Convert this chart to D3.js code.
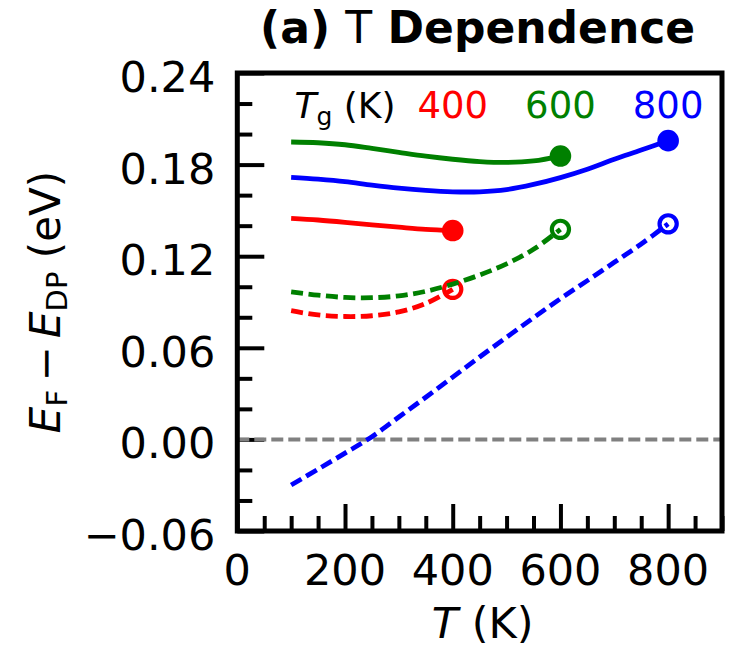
<!DOCTYPE html>
<html>
<head>
<meta charset="utf-8">
<script src="https://cdn.jsdelivr.net/npm/d3@7"></script>
<style>
  body { margin: 0; background: #fff; }
  text { font-family: "DejaVu Sans", sans-serif; }
</style>
</head>
<body>
<div id="plot_area"></div>
<script>
// temperatures sampled along each curve (K)
var temps400 = [100, 150, 200, 250, 300, 350, 400]
var temps600 = [100, 150, 200, 250, 300, 350, 400, 450, 500, 550, 600]
var temps800 = [100, 150, 200, 250, 300, 350, 400, 450, 500, 550, 600, 650, 700, 750, 800]

// solid curves (filled end dot)
var solid400 = [0.1448, 0.1437, 0.1422, 0.1405, 0.1390, 0.1376, 0.1368]
var solid600 = [0.1948, 0.1943, 0.1930, 0.1906, 0.1880, 0.1855, 0.1835, 0.1820, 0.1814, 0.1824, 0.1856]
var solid800 = [0.1717, 0.1705, 0.1689, 0.1666, 0.1646, 0.1631, 0.1622, 0.1622, 0.1636, 0.1670, 0.1715, 0.1770, 0.1835, 0.1895, 0.1957]

// dashed curves (open end circle)
var dash400 = [0.0843, 0.0815, 0.0805, 0.0810, 0.0835, 0.0890, 0.0983]
var dash600 = [0.0967, 0.0945, 0.0930, 0.0928, 0.0940, 0.0970, 0.1017, 0.1077, 0.1150, 0.1245, 0.1376]
var dash800 = [-0.0299, -0.0195, -0.0090, 0.0018, 0.0147, 0.0276, 0.0408, 0.0540, 0.0669, 0.0797, 0.0922, 0.1040, 0.1160, 0.1280, 0.1412]

var growthTemps = [400, 600, 800]
var seriesColors = ["#ff0000", "#008000", "#0000ff"]

var xTicks = [0, 200, 400, 600, 800]
var yTicks = [-0.06, 0.00, 0.06, 0.12, 0.18, 0.24]

var W = 733, H = 649
var mLeft = 237.3, mRight = 722, mTop = 73, mBottom = 531

var svg = d3.select('#plot_area').append("svg")
  .attr("width", W).attr("height", H)

var x = d3.scaleLinear().domain([0, 900]).range([mLeft, mRight])
var y = d3.scaleLinear().domain([-0.06, 0.24]).range([mBottom, mTop])

// minor ticks
var xMinor = d3.range(0, 901, 50).filter(function(d) { return d % 200 != 0 })
var yMinor = d3.range(-6, 25, 2).map(function(d) { return d / 100 })
  .filter(function(d) { return Math.round(d * 100) % 6 != 0 })

var axisG = svg.append("g")

// bottom axis: ticks point inward
axisG.append("g")
  .attr("transform", "translate(0," + mBottom + ")")
  .call(d3.axisBottom(x).tickValues(xTicks).tickSizeInner(-27).tickSizeOuter(0).tickPadding(0).tickFormat(""))
  .call(function(g) { g.select(".domain").remove() })
axisG.append("g")
  .attr("transform", "translate(0," + mBottom + ")")
  .call(d3.axisBottom(x).tickValues(xMinor).tickSizeInner(-15).tickSizeOuter(0).tickFormat(""))
  .call(function(g) { g.select(".domain").remove() })

axisG.append("g")
  .attr("transform", "translate(" + mLeft + ",0)")
  .call(d3.axisLeft(y).tickValues(yTicks).tickSizeInner(-27).tickSizeOuter(0).tickFormat(""))
  .call(function(g) { g.select(".domain").remove() })
axisG.append("g")
  .attr("transform", "translate(" + mLeft + ",0)")
  .call(d3.axisLeft(y).tickValues(yMinor).tickSizeInner(-15).tickSizeOuter(0).tickFormat(""))
  .call(function(g) { g.select(".domain").remove() })

axisG.selectAll(".tick line").attr("stroke", "#000").attr("stroke-width", 4)

// tick labels
svg.append("g").selectAll("text")
  .data(xTicks).enter().append("text")
  .attr("x", function(d) { return x(d) })
  .attr("y", 585)
  .attr("text-anchor", "middle")
  .style("font-size", "43px")
  .text(function(d) { return d })

svg.append("g").selectAll("text")
  .data(yTicks).enter().append("text")
  .attr("x", mLeft - 22)
  .attr("y", function(d) { return y(d) + 19 })
  .attr("text-anchor", "end")
  .style("font-size", "43px")
  .text(function(d) { return (d < 0 ? "\u2212" : "") + Math.abs(d).toFixed(2) })

// zero line
svg.append("line")
  .attr("x1", mLeft).attr("x2", mRight)
  .attr("y1", y(0)).attr("y2", y(0))
  .attr("stroke", "#808080").attr("stroke-width", 4)
  .attr("stroke-dasharray", "12,5")

var line = d3.line()
  .x(function(d) { return x(d[0]) })
  .y(function(d) { return y(d[1]) })
  .curve(d3.curveCatmullRom)

var solids = [solid400, solid600, solid800]
var dashes = [dash400, dash600, dash800]
var tempsList = [temps400, temps600, temps800]

var plot = svg.append("g")

tempsList.forEach(function(ts, i) {
  var s = ts.map(function(t, j) { return [t, solids[i][j]] })
  var d = ts.map(function(t, j) { return [t, dashes[i][j]] })

  plot.append("path").datum(s)
    .attr("d", line).attr("fill", "none")
    .attr("stroke", seriesColors[i]).attr("stroke-width", 4.8)

  plot.append("path").datum(d)
    .attr("d", line).attr("fill", "none")
    .attr("stroke", seriesColors[i]).attr("stroke-width", 4.8)
    .attr("stroke-dasharray", "12,5.5")

  var last = s[s.length - 1]
  plot.append("circle")
    .attr("cx", x(last[0])).attr("cy", y(last[1])).attr("r", 10.8)
    .attr("fill", seriesColors[i])

  var lastD = d[d.length - 1]
  plot.append("circle")
    .attr("cx", x(lastD[0])).attr("cy", y(lastD[1])).attr("r", 8.6)
    .attr("fill", "none")
    .attr("stroke", seriesColors[i]).attr("stroke-width", 4.2)
})

// legend text
var tg = svg.append("text")
  .attr("x", x(200)).attr("y", 118)
  .attr("text-anchor", "middle")
  .style("font-size", "36px")
tg.append("tspan").style("font-style", "italic").text("T")
tg.append("tspan").attr("dy", 7).style("font-size", "25px").text("g")
tg.append("tspan").attr("dy", -7).text(" (K)")

svg.append("g").selectAll("text")
  .data(growthTemps).enter().append("text")
  .attr("x", function(d) { return x(d) })
  .attr("y", 118)
  .attr("text-anchor", "middle")
  .style("font-size", "37px")
  .attr("fill", function(d, i) { return seriesColors[i] })
  .text(function(d) { return d })

// frame
svg.append("rect")
  .attr("x", mLeft).attr("y", mTop)
  .attr("width", mRight - mLeft).attr("height", mBottom - mTop)
  .attr("fill", "none").attr("stroke", "#000").attr("stroke-width", 5)

// title
var title = svg.append("text")
  .attr("x", (mLeft + mRight) / 2 - 2).attr("y", 43)
  .attr("text-anchor", "middle")
  .style("font-size", "44px").style("font-weight", "bold")
title.append("tspan").text("(a) ")
title.append("tspan").style("font-weight", "normal").text("T")
title.append("tspan").text(" Dependence")

// x label
var xl = svg.append("text")
  .attr("x", (mLeft + mRight) / 2 + 3).attr("y", 638)
  .attr("text-anchor", "middle")
  .style("font-size", "43px")
xl.append("tspan").style("font-style", "italic").text("T")
xl.append("tspan").text(" (K)")

// y label
var yl = svg.append("text")
  .attr("transform", "translate(60," + (mTop + mBottom) / 2 + ") rotate(-90)")
  .attr("text-anchor", "middle")
  .style("font-size", "42px")
yl.append("tspan").style("font-style", "italic").text("E")
yl.append("tspan").attr("dy", 7).style("font-size", "29px").text("F")
yl.append("tspan").attr("dy", -7).text("\u2009\u2212\u2009")
yl.append("tspan").style("font-style", "italic").text("E")
yl.append("tspan").attr("dy", 7).style("font-size", "29px").text("DP")
yl.append("tspan").attr("dy", -7).text(" (eV)")
</script>
</body>
</html>
